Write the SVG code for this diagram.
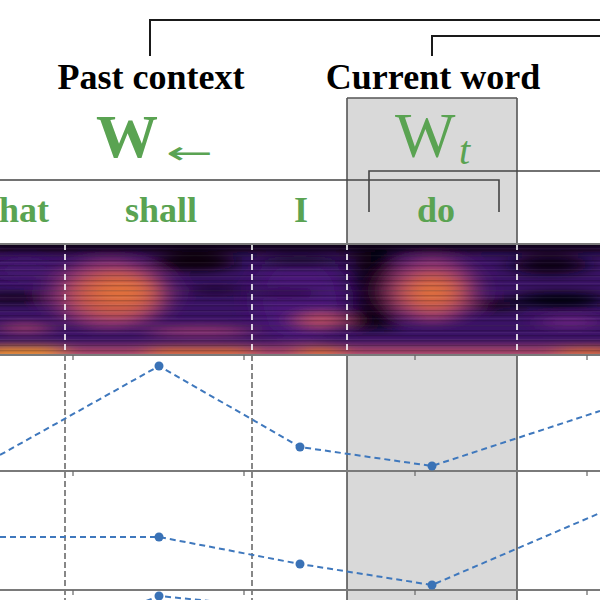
<svg xmlns="http://www.w3.org/2000/svg" width="600" height="600" viewBox="0 0 600 600">
<defs>
<style>
.lbl{font-family:"Liberation Serif","Times New Roman",serif;font-weight:bold;font-size:36px;fill:#000;text-anchor:middle}
.word{font-family:"Liberation Serif","Times New Roman",serif;font-weight:bold;font-size:36px;fill:#5aa352;text-anchor:middle}
.math{font-family:"Liberation Serif","Times New Roman",serif;fill:#5aa352}
.brk{fill:none;stroke:#1a1a1a;stroke-width:2}
.brk2{fill:none;stroke:#444;stroke-width:1.6}
.axis{stroke:#7a7a7a;stroke-width:2}
.wdash{stroke:#fff;stroke-width:1.6;stroke-dasharray:6 4}
.gdash{stroke:#6a6a6a;stroke-width:1.6;stroke-dasharray:6 3}
.boxedge{stroke:#555;stroke-width:1.6}
.tick{stroke:#666;stroke-width:1.2}
.series{fill:none;stroke:#3f78bd;stroke-width:2;stroke-dasharray:6 4}
.dot{fill:#3a72b6}
</style>
<clipPath id="specClip"><rect x="0" y="244" width="600" height="111"/></clipPath>
<clipPath id="plotClip"><rect x="0" y="355" width="600" height="245"/></clipPath>
<filter id="blur" x="-40%" y="-40%" width="180%" height="180%"><feGaussianBlur stdDeviation="12 5"/></filter>
<pattern id="streak" width="600" height="5" patternUnits="userSpaceOnUse"><rect x="0" y="0" width="600" height="1.4" fill="#000" opacity="0.18"/></pattern>
<pattern id="streak2" width="600" height="7" patternUnits="userSpaceOnUse"><rect x="0" y="3" width="600" height="1.2" fill="#fff" opacity="0.05"/></pattern>
</defs>

<!-- current word highlight box -->
<g id="current-box">
<rect x="347" y="98" width="170" height="510" fill="#d9d9d9"/>
<line class="boxedge" x1="347" y1="98" x2="517" y2="98"/>
<line class="boxedge" x1="347" y1="98" x2="347" y2="600"/>
<line class="boxedge" x1="517" y1="98" x2="517" y2="600"/>
</g>

<!-- connectors / brackets -->
<g id="connectors">
<polyline class="brk" points="150,56 150,20 600,20"/>
<polyline class="brk" points="432,56 432,36 600,36"/>
<polyline class="brk2" points="369,212 369,171 600,171"/>
<polyline class="brk2" points="0,180 499,180 499,212"/>
</g>

<g id="past-context">
<text class="lbl" x="151" y="89">Past context</text>
<text class="math" x="96" y="157" font-size="62" font-weight="bold">W</text>
<text x="166" y="164" font-family="DejaVu Sans, sans-serif" font-size="32" fill="#5aa352" textLength="47" lengthAdjust="spacingAndGlyphs">←</text>
</g>

<g id="current-word">
<text class="lbl" x="433" y="89">Current word</text>
<text class="math" x="395" y="157" font-size="64">W</text>
<text class="math" x="459" y="164" font-size="40" font-style="italic">t</text>
</g>

<g id="words">
<text class="word" x="-1" y="222" style="text-anchor:start">hat</text>
<text class="word" x="161" y="222">shall</text>
<text class="word" x="301" y="222">I</text>
<text class="word" x="436" y="222">do</text>
</g>

<!-- spectrogram -->
<g id="spectrogram" clip-path="url(#specClip)">
<rect x="0" y="244" width="600" height="111" fill="#3a1266"/>
<g filter="url(#blur)">
<rect x="-20" y="238" width="640" height="14" fill="#0d0618"/>
<rect x="-20" y="294" width="65" height="8" fill="#08040f"/>
<ellipse cx="25" cy="270" rx="30" ry="10" fill="#45186f"/>
<ellipse cx="25" cy="328" rx="28" ry="5" fill="#a23e6a"/>
<ellipse cx="110" cy="294" rx="60" ry="36" fill="#8a3070"/>
<ellipse cx="115" cy="294" rx="44" ry="24" fill="#c8584a"/>
<ellipse cx="120" cy="292" rx="26" ry="12" fill="#e0703c"/>
<ellipse cx="195" cy="262" rx="42" ry="10" fill="#08040f"/>
<ellipse cx="215" cy="290" rx="28" ry="4" fill="#120828"/>
<ellipse cx="200" cy="331" rx="55" ry="5" fill="#9a3870"/>
<ellipse cx="300" cy="300" rx="45" ry="42" fill="#4a1878"/>
<ellipse cx="285" cy="293" rx="38" ry="3" fill="#08040f"/>
<ellipse cx="322" cy="320" rx="26" ry="8" fill="#b44a5e"/>
<ellipse cx="300" cy="262" rx="40" ry="6" fill="#1a0a33"/>
<rect x="352" y="250" width="40" height="80" fill="#0a0515"/>
<rect x="372" y="250" width="18" height="75" fill="#040208"/>
<ellipse cx="432" cy="290" rx="46" ry="34" fill="#8a3070"/>
<ellipse cx="432" cy="292" rx="32" ry="21" fill="#c8584a"/>
<ellipse cx="432" cy="292" rx="18" ry="10" fill="#e0703c"/>
<ellipse cx="495" cy="305" rx="26" ry="5" fill="#08040f"/>
<ellipse cx="560" cy="300" rx="45" ry="8" fill="#06030d"/>
<ellipse cx="550" cy="265" rx="38" ry="10" fill="#0a0515"/>
<ellipse cx="570" cy="322" rx="32" ry="6" fill="#6a2480"/>
<rect x="-20" y="346" width="640" height="14" fill="#b04868"/>
<rect x="-20" y="346" width="80" height="14" fill="#f09030"/>
<rect x="150" y="347" width="100" height="12" fill="#e0703a"/>
<rect x="300" y="347" width="40" height="12" fill="#e07038"/>
<rect x="560" y="347" width="60" height="12" fill="#d86a3c"/>
</g>
<rect x="0" y="244" width="600" height="111" fill="url(#streak)"/>
<rect x="0" y="244" width="600" height="111" fill="url(#streak2)"/>
<line class="wdash" x1="65" y1="244" x2="65" y2="355"/>
<line class="wdash" x1="252" y1="244" x2="252" y2="355"/>
<line class="wdash" x1="347" y1="244" x2="347" y2="355"/>
<line class="wdash" x1="517" y1="244" x2="517" y2="355"/>
</g>
<line class="axis" x1="0" y1="244" x2="600" y2="244"/>

<!-- plot panels -->
<g id="panels">
<line class="gdash" x1="65" y1="355" x2="65" y2="600"/>
<line class="gdash" x1="252" y1="355" x2="252" y2="600"/>
<line class="axis" x1="0" y1="355" x2="600" y2="355"/>
<line class="axis" x1="0" y1="471" x2="600" y2="471"/>
<line class="axis" x1="0" y1="590" x2="600" y2="590"/>
<g class="ticks">
<line class="tick" x1="73" y1="355" x2="73" y2="360"/><line class="tick" x1="244" y1="355" x2="244" y2="360"/><line class="tick" x1="415" y1="355" x2="415" y2="360"/><line class="tick" x1="587" y1="355" x2="587" y2="360"/>
<line class="tick" x1="73" y1="471" x2="73" y2="476"/><line class="tick" x1="244" y1="471" x2="244" y2="476"/><line class="tick" x1="415" y1="471" x2="415" y2="476"/><line class="tick" x1="587" y1="471" x2="587" y2="476"/>
<line class="tick" x1="73" y1="590" x2="73" y2="595"/><line class="tick" x1="244" y1="590" x2="244" y2="595"/><line class="tick" x1="415" y1="590" x2="415" y2="595"/><line class="tick" x1="587" y1="590" x2="587" y2="595"/>
</g>
<g clip-path="url(#plotClip)">
<polyline class="series" points="0,455 159,366 300,447 432,466 600,411"/>
<circle class="dot" cx="159" cy="366" r="4.5"/><circle class="dot" cx="300" cy="447" r="4.5"/><circle class="dot" cx="432" cy="466" r="4.5"/>
<polyline class="series" points="0,537 159,537 300,564 432,585 600,513"/>
<circle class="dot" cx="159" cy="537" r="4.5"/><circle class="dot" cx="300" cy="564" r="4.5"/><circle class="dot" cx="432" cy="585" r="4.5"/>
<polyline class="series" points="146,601 159,596 220,602"/>
<circle class="dot" cx="159" cy="596" r="4.5"/>
</g>
</g>
</svg>
